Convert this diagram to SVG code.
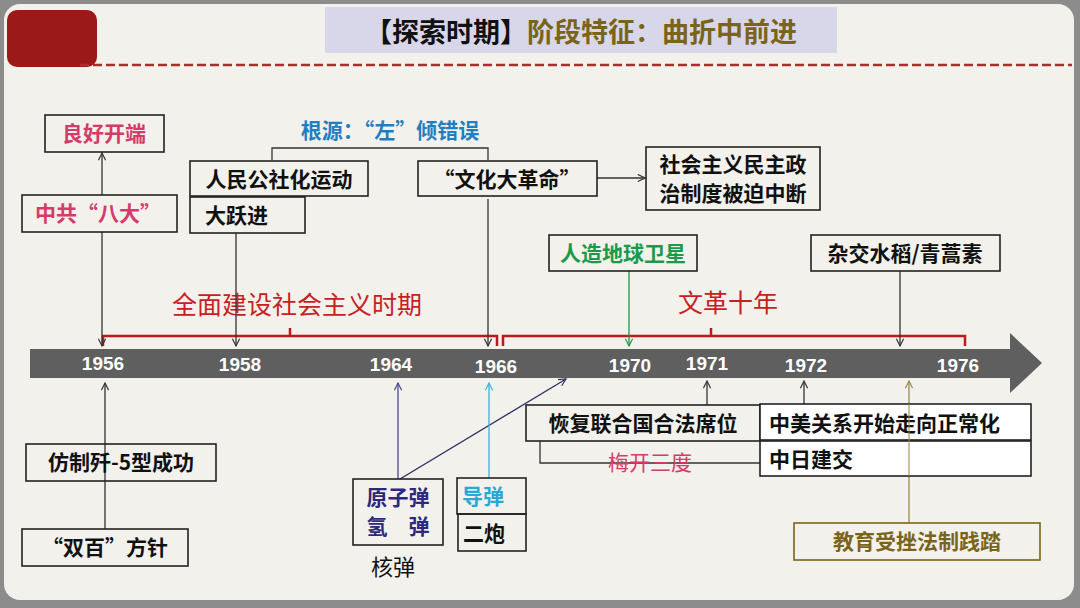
<svg xmlns="http://www.w3.org/2000/svg" width="1080" height="608" viewBox="0 0 1080 608">
<defs>
<style>
.t{font-family:"Noto Sans CJK SC","Liberation Sans",sans-serif;font-weight:bold;font-size:21px;fill:#111}
.c{text-anchor:middle}
.b{fill:none;stroke:#222;stroke-width:1.6}
.ln{fill:none;stroke-width:1.3}
.yr{font-family:"Liberation Sans",Arial,sans-serif;font-weight:bold;font-size:19px;fill:#fff;text-anchor:middle}
.red{fill:none;stroke:#c0191c;stroke-width:2.5}
</style>
<marker id="a" viewBox="0 0 10 10" refX="9" refY="5" markerWidth="9" markerHeight="9" orient="auto" markerUnits="userSpaceOnUse"><path d="M1,1 L9,5 L1,9" fill="none" stroke="context-stroke" stroke-width="1.3"/></marker>
</defs>
<rect x="0" y="0" width="1080" height="608" fill="#8c8c8c"/>
<rect x="4" y="4" width="1070" height="596" rx="16" fill="#f3f1ec"/>
<rect x="7" y="10" width="90" height="57" rx="10" fill="#9b1a17"/>
<g id="title">
<rect x="325" y="7" width="512" height="46" fill="#d8d7ea"/>
<text x="581" y="42" class="t c" style="font-size:27px"><tspan fill="#111">【探索时期】</tspan><tspan fill="#7a6419">阶段特征：曲折中前进</tspan></text>
</g>
<line x1="80" y1="65" x2="1072" y2="65" stroke="#a8302c" stroke-width="2.5" stroke-dasharray="9,4"/>
<g id="timeline">
<path d="M30,349 H1010 V333 L1042,363 L1010,393 V378 H30 Z" fill="#5f5f5f"/>
<text x="103" y="370" class="yr">1956</text>
<text x="240" y="371" class="yr">1958</text>
<text x="391" y="371" class="yr">1964</text>
<text x="496" y="373" class="yr">1966</text>
<text x="630" y="372" class="yr">1970</text>
<text x="707" y="370" class="yr">1971</text>
<text x="806" y="372" class="yr">1972</text>
<text x="958" y="372" class="yr">1976</text>
</g>
<g id="periods">
<path class="red" d="M103,346 V336 H497 V346 M290,336 V328"/>
<path class="red" d="M503,346 V336 H965 V346 M711,336 V328"/>
<text x="297" y="314" class="t c" style="font-size:25px;fill:#c8201e;font-weight:normal">全面建设社会主义时期</text>
<text x="728" y="312" class="t c" style="font-size:25px;fill:#c8201e;font-weight:normal">文革十年</text>
</g>
<g id="connectors" stroke="#333">
<line class="ln" x1="102" y1="195" x2="102" y2="153" marker-end="url(#a)"/>
<line class="ln" x1="102" y1="232" x2="102" y2="346" marker-end="url(#a)"/>
<line class="ln" x1="236" y1="233" x2="236" y2="346" marker-end="url(#a)"/>
<path class="ln" d="M272,160 V148 H488 V160" stroke-width="2"/>
<line class="ln" x1="488" y1="199" x2="488" y2="346" marker-end="url(#a)"/>
<line class="ln" x1="597" y1="178" x2="645" y2="178" marker-end="url(#a)"/>
<line class="ln" x1="629" y1="271" x2="629" y2="346" stroke="#1a9a4a" marker-end="url(#a)"/>
<line class="ln" x1="900" y1="271" x2="900" y2="346" marker-end="url(#a)"/>
<line class="ln" x1="105" y1="529" x2="105" y2="383" marker-end="url(#a)"/>
<line class="ln" x1="398" y1="479" x2="398" y2="383" stroke="#4a4a8a" marker-end="url(#a)"/>
<line class="ln" x1="400" y1="479" x2="566" y2="379" stroke="#2c2a60" marker-end="url(#a)"/>
<line class="ln" x1="489" y1="478" x2="489" y2="383" stroke="#3ab3d8" marker-end="url(#a)"/>
<line class="ln" x1="707" y1="405" x2="707" y2="381" marker-end="url(#a)"/>
<line class="ln" x1="804" y1="404" x2="804" y2="381" marker-end="url(#a)"/>
<path class="ln" d="M540,441 V463 H760" stroke-width="1.6"/>
<line class="ln" x1="909" y1="523" x2="909" y2="381" stroke="#9a8a50" marker-end="url(#a)"/>
</g>
<g id="n-lianghao"><rect class="b" x="45" y="115" width="119" height="37"/><text x="104" y="141" class="t c" style="fill:#d63a6a">良好开端</text></g>
<g id="n-bada"><rect class="b" x="22" y="195" width="155" height="37"/><text x="98" y="221" class="t c" style="fill:#d63a6a">中共“八大”</text></g>
<g id="n-genyuan"><text x="390" y="138" class="t c" style="fill:#1f7fc0">根源：“左”倾错误</text></g>
<g id="n-renmin"><rect class="b" x="190" y="161" width="178" height="35"/><text x="279" y="187" class="t c">人民公社化运动</text></g>
<g id="n-dayue"><rect class="b" x="190" y="197" width="115" height="36"/><text x="205" y="223" class="t">大跃进</text></g>
<g id="n-wenge"><rect class="b" x="418" y="161" width="179" height="35"/><text x="507" y="187" class="t c">“文化大革命”</text></g>
<g id="n-zhongduan"><rect class="b" x="646" y="147" width="174" height="63"/><text x="733" y="172" class="t c">社会主义民主政</text><text x="733" y="201" class="t c">治制度被迫中断</text></g>
<g id="n-weixing"><rect class="b" x="549" y="235" width="148" height="36"/><text x="623" y="261" class="t c" style="fill:#1a9a4a">人造地球卫星</text></g>
<g id="n-zajiao"><rect class="b" x="811" y="235" width="189" height="36"/><text x="905" y="261" class="t c">杂交水稻/青蒿素</text></g>
<g id="n-jian5"><rect class="b" x="26" y="444" width="190" height="37"/><text x="121" y="470" class="t c">仿制歼-5型成功</text></g>
<g id="n-shuangbai"><rect class="b" x="22" y="529" width="166" height="37"/><text x="105" y="555" class="t c">“双百”方针</text></g>
<g id="n-yuanzi"><rect class="b" x="353" y="479" width="90" height="66"/><text x="398" y="505" class="t c" style="fill:#2c2a80">原子弹</text><text x="398" y="534" class="t c" style="fill:#2c2a80">氢　弹</text></g>
<g id="n-hedan"><text x="393" y="575" class="t c" style="font-weight:normal;font-size:22px">核弹</text></g>
<g id="n-daodan"><rect class="b" x="457" y="478" width="69" height="36"/><text x="483" y="504" class="t c" style="fill:#27a9d8">导弹</text></g>
<g id="n-erpao"><rect class="b" x="458" y="514" width="68" height="37"/><text x="484" y="541" class="t c">二炮</text></g>
<g id="n-lianheguo"><rect class="b" x="526" y="405" width="234" height="36"/><text x="643" y="431" class="t c">恢复联合国合法席位</text></g>
<g id="n-meikai"><text x="650" y="470" class="t c" style="fill:#d63a6a;font-weight:normal">梅开三度</text></g>
<g id="n-zhongmei"><rect class="b" x="760" y="404" width="271" height="36" style="fill:#fff"/><text x="769" y="431" class="t">中美关系开始走向正常化</text></g>
<g id="n-zhongri"><rect class="b" x="760" y="441" width="271" height="35" style="fill:#fff"/><text x="769" y="467" class="t">中日建交</text></g>
<line x1="909" y1="404" x2="909" y2="476" stroke="#9a8a50" stroke-width="1.3" opacity="0.8"/>
<g id="n-jiaoyu"><rect class="b" x="794" y="523" width="246" height="37" style="stroke:#7a6419"/><text x="917" y="549" class="t c" style="fill:#7a6419">教育受挫法制践踏</text></g>
</svg>
